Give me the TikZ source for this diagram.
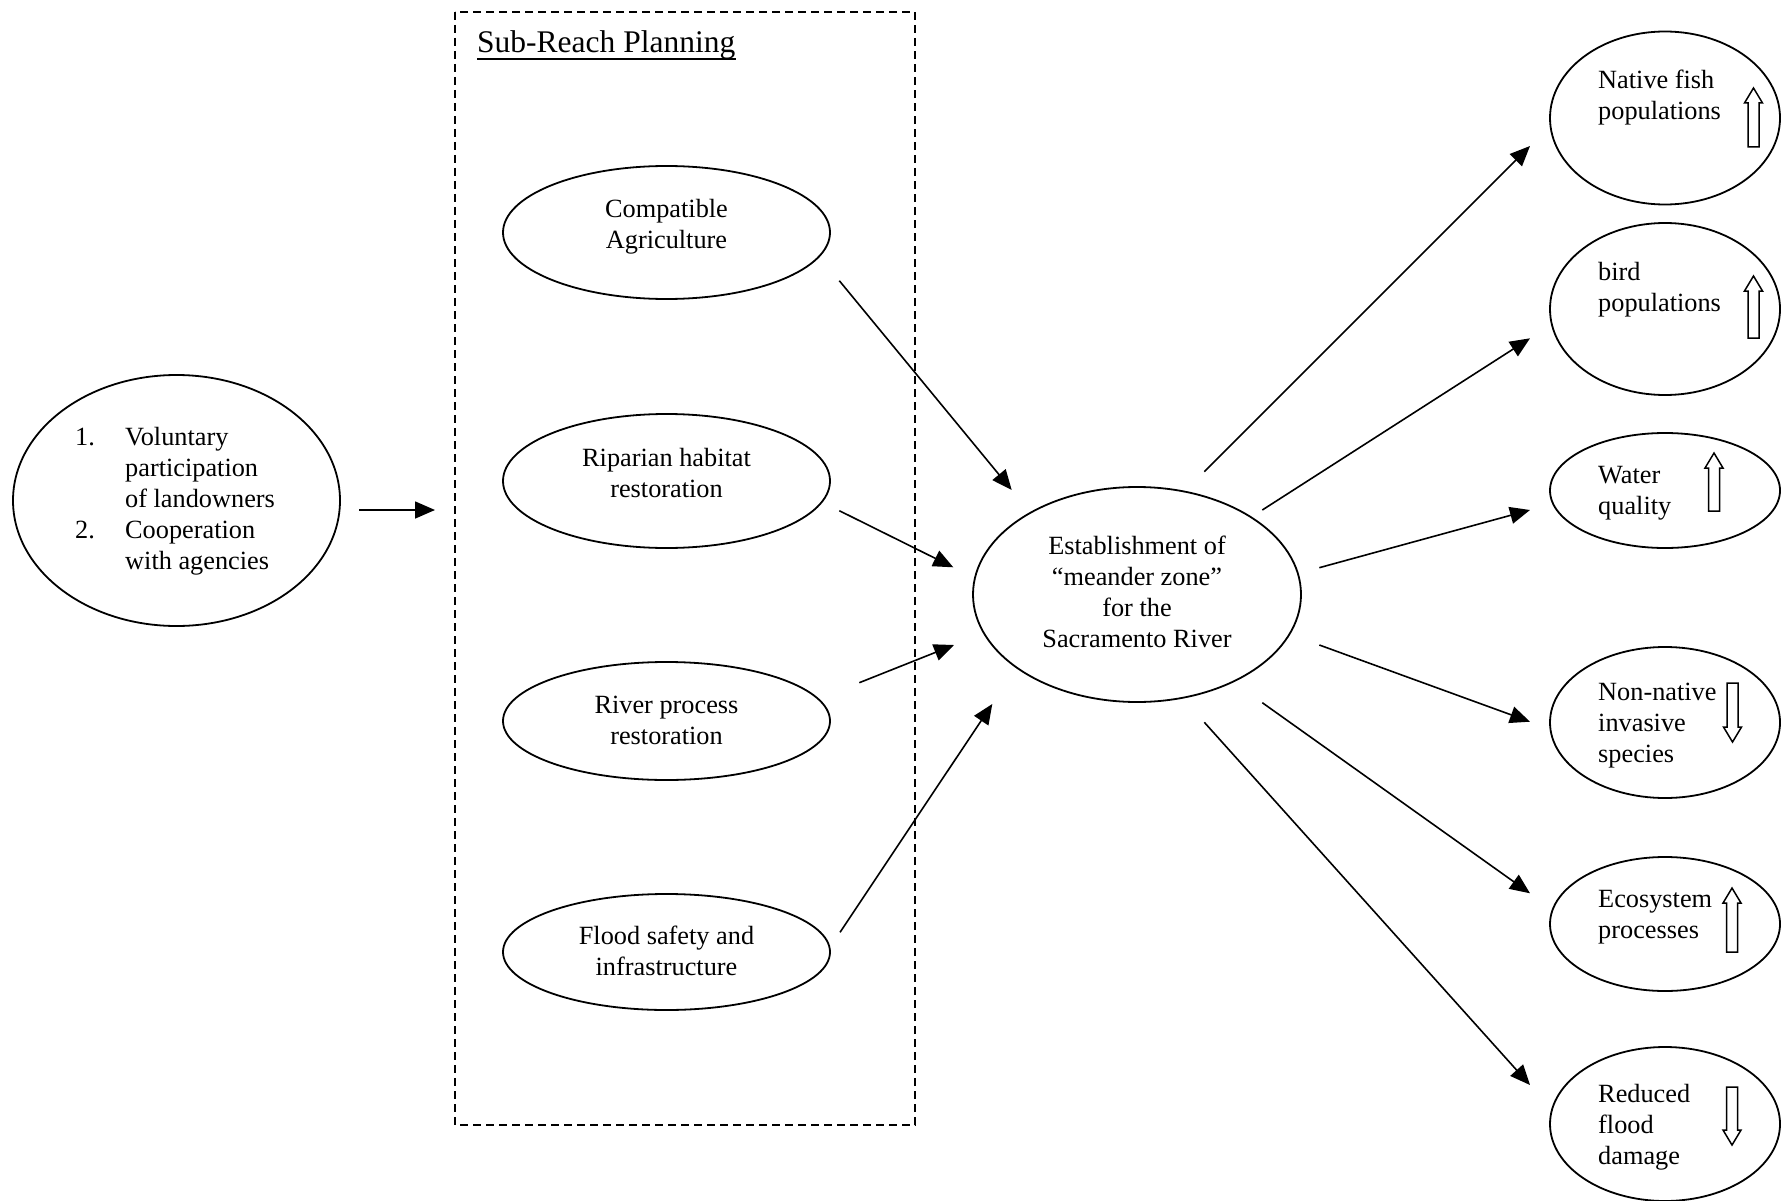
\documentclass[tikz,border=0pt]{standalone}
\usepackage{fontspec}
\setmainfont{Liberation Serif}
\usetikzlibrary{arrows.meta,shapes.geometric}
\newcommand{\blkup}[3]{\draw[barrow] (#1-5.5,#3) -- (#1-5.5,#2+15) -- (#1-9,#2+15) -- (#1,#2) -- (#1+9,#2+15) -- (#1+5.5,#2+15) -- (#1+5.5,#3) -- cycle;}
\newcommand{\blkdn}[3]{\draw[barrow] (#1-5.5,#2) -- (#1-5.5,#3-15) -- (#1-9,#3-15) -- (#1,#3) -- (#1+9,#3-15) -- (#1+5.5,#3-15) -- (#1+5.5,#2) -- cycle;}
\begin{document}
\begin{tikzpicture}[x=1pt,y=-1pt,
  ell/.style={draw, ellipse, line width=1.8pt, inner sep=0pt},
  conn/.style={-{Triangle[length=20pt,width=17pt]}, line width=1.6pt},
  txt/.style={inner sep=0pt},
  lfont/.style={font=\fontsize{26.3}{31}\selectfont},
  mfont/.style={font=\fontsize{26.3}{31}\selectfont},
  rfont/.style={font=\fontsize{26.3}{31}\selectfont},
  ttl/.style={inner sep=0pt, font=\fontsize{31.5}{36}\selectfont},
  dbox/.style={draw, line width=1.6pt, dash pattern=on 8pt off 5pt},
  barrow/.style={draw, line width=1.5pt, fill=white, line join=miter}
]
\useasboundingbox (0,0) rectangle (1785,1201);

% dashed sub-reach box and title
\draw[dbox] (455,12) rectangle (915,1125);
\node[ttl, anchor=base west] (title) at (477,53) {Sub-Reach Planning};
\draw[line width=1.6pt] ([yshift=-6pt]title.base west) -- ([yshift=-6pt]title.base east);

% left ellipse
\node[ell, minimum width=327pt, minimum height=251pt] (vol) at (176.5,500.5) {};
\node[txt, lfont, align=left, anchor=north west] (vol-t) at (75,423.3)
 {\strut\makebox[50pt][l]{1.}Voluntary\\
  \strut\hspace*{50pt}participation\\
  \strut\hspace*{50pt}of landowners\\
  \strut\makebox[50pt][l]{2.}Cooperation\\
  \strut\hspace*{50pt}with agencies};

% middle column
\node[ell, minimum width=327pt, minimum height=133pt] (ca) at (666.5,232.5) {};
\node[txt, mfont, align=center, anchor=north] (ca-t) at (666.5,195.3) {\strut Compatible\\\strut Agriculture};
\node[ell, minimum width=327pt, minimum height=134pt] (ri) at (666.5,481) {};
\node[txt, mfont, align=center, anchor=north] (ri-t) at (666.5,444.3) {\strut Riparian habitat\\\strut restoration};
\node[ell, minimum width=327pt, minimum height=118pt] (rp) at (666.5,721) {};
\node[txt, mfont, align=center, anchor=north] (rp-t) at (666.5,691.3) {\strut River process\\\strut restoration};
\node[ell, minimum width=327pt, minimum height=116pt] (fs) at (666.5,952) {};
\node[txt, mfont, align=center, anchor=north] (fs-t) at (666.5,922.3) {\strut Flood safety and\\\strut infrastructure};

% central ellipse
\node[ell, minimum width=328pt, minimum height=215pt] (mz) at (1137,594.5) {};
\node[txt, mfont, align=center, anchor=north] (mz-t) at (1137,532.3)
 {\strut Establishment of\\\strut “meander zone”\\\strut for the\\\strut Sacramento River};

% right column
\node[ell, minimum width=230pt, minimum height=173pt] (nf) at (1665,118) {};
\node[txt, rfont, align=left, anchor=north west] (nf-t) at (1598,66.3) {\strut Native fish\\\strut populations};
\node[ell, minimum width=230pt, minimum height=172pt] (bp) at (1665,309) {};
\node[txt, rfont, align=left, anchor=north west] (bp-t) at (1598,258.3) {\strut bird\\\strut populations};
\node[ell, minimum width=230pt, minimum height=115pt] (wq) at (1665,490.5) {};
\node[txt, rfont, align=left, anchor=north west] (wq-t) at (1598,461.3) {\strut Water\\\strut quality};
\node[ell, minimum width=230pt, minimum height=151pt] (nn) at (1665,722.5) {};
\node[txt, rfont, align=left, anchor=north west] (nn-t) at (1598,678.3) {\strut Non-native\\\strut invasive\\\strut species};
\node[ell, minimum width=230pt, minimum height=134pt] (ep) at (1665,924) {};
\node[txt, rfont, align=left, anchor=north west] (ep-t) at (1598,885.3) {\strut Ecosystem\\\strut processes};
\node[ell, minimum width=230pt, minimum height=154pt] (rf) at (1665,1124) {};
\node[txt, rfont, align=left, anchor=north west] (rf-t) at (1598,1080.3) {\strut Reduced\\\strut flood\\\strut damage};

% block arrows
\blkup{1753.5}{88}{147}
\blkup{1753.5}{276}{338}
\blkup{1714}{453}{511}
\blkdn{1732.5}{683}{742}
\blkup{1732}{888}{952}
\blkdn{1732}{1087}{1145}

% connector end points
\coordinate (vol-o) at (359,510);   \coordinate (box-i) at (435,510);
\coordinate (ca-o) at (839.3,280.7); \coordinate (mz-i1) at (1011.7,490);
\coordinate (ri-o) at (839.3,510.7); \coordinate (mz-i2) at (953.3,567.3);
\coordinate (rp-o) at (859.3,682.7); \coordinate (mz-i3) at (954,645);
\coordinate (fs-o) at (840,932.3);   \coordinate (mz-i4) at (992.3,704);
\coordinate (mz-o1) at (1204.3,471.7); \coordinate (nf-i) at (1530,146);
\coordinate (mz-o2) at (1262.3,510);   \coordinate (bp-i) at (1530,338.3);
\coordinate (mz-o3) at (1319.3,567.7); \coordinate (wq-i) at (1530,510);
\coordinate (mz-o4) at (1319.3,645);   \coordinate (nn-i) at (1530,721.7);
\coordinate (mz-o5) at (1262.3,702.7); \coordinate (ep-i) at (1530,893.3);
\coordinate (mz-o6) at (1204.3,722.3); \coordinate (rf-i) at (1530,1085);

% connectors
\draw[conn] (vol-o) -- (box-i);
\draw[conn] (ca-o) -- (mz-i1);
\draw[conn] (ri-o) -- (mz-i2);
\draw[conn] (rp-o) -- (mz-i3);
\draw[conn] (fs-o) -- (mz-i4);
\draw[conn] (mz-o1) -- (nf-i);
\draw[conn] (mz-o2) -- (bp-i);
\draw[conn] (mz-o3) -- (wq-i);
\draw[conn] (mz-o4) -- (nn-i);
\draw[conn] (mz-o5) -- (ep-i);
\draw[conn] (mz-o6) -- (rf-i);
\end{tikzpicture}
\end{document}
